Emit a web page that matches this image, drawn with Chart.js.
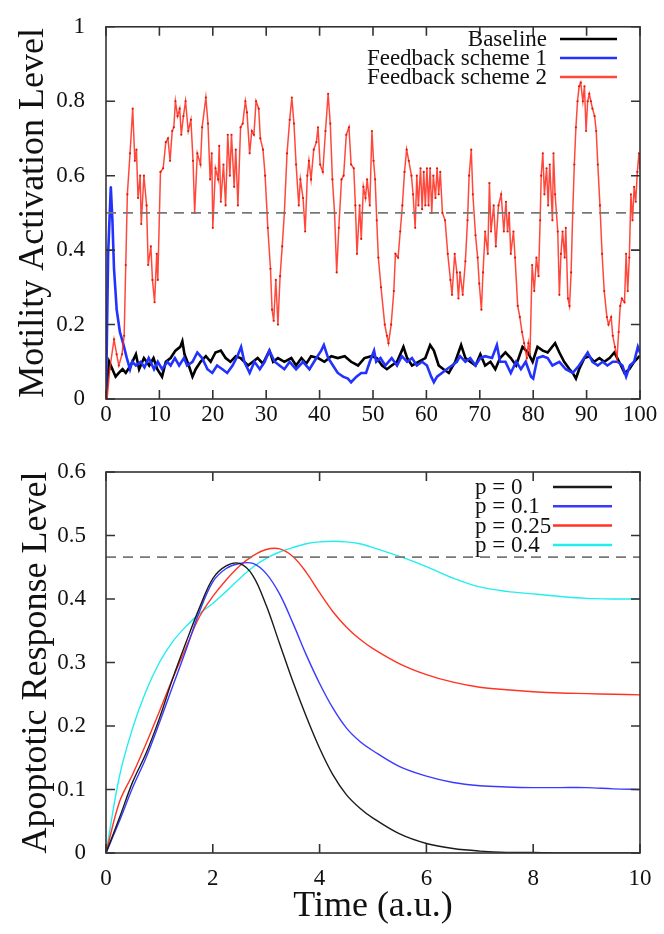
<!DOCTYPE html>
<html>
<head>
<meta charset="utf-8">
<script src="https://cdn.jsdelivr.net/npm/chart.js@4.4.1/dist/chart.umd.min.js"></script>
<style>
  body { margin: 0; background: #fff; }
  #wrap { position: relative; width: 664px; height: 934px; }
  canvas { position: absolute; left: 0; }
  #motility { top: 0; }
  #apoptosis { top: 440px; }
</style>
</head>
<body>
<div id="wrap">
  <canvas id="motility" width="664" height="440"></canvas>
  <canvas id="apoptosis" width="664" height="494"></canvas>
</div>
<script>
// --- top panel: motility activation, [time, level] pairs ---
const baselinePts = [[0,0],[0.3,0.06],[0.6,0.10],[1.2,0.08],[1.8,0.06],[2.4,0.07],[3.1,0.08],[3.7,0.07],[4.6,0.09],[5.6,0.12],[6.2,0.08],[7.1,0.11],[8.1,0.09],[8.9,0.11],[9.6,0.08],[10.5,0.06],[11.2,0.10],[12.1,0.11],[13.0,0.13],[13.9,0.14],[14.3,0.155],[14.7,0.12],[15.5,0.09],[16.2,0.06],[16.8,0.08],[17.7,0.10],[18.7,0.115],[19.6,0.10],[20.5,0.125],[21.5,0.13],[22.4,0.11],[23.3,0.10],[24.3,0.115],[25.2,0.11],[26.6,0.09],[27.5,0.10],[28.4,0.11],[29.4,0.095],[30.6,0.13],[31.3,0.10],[32.2,0.11],[33.4,0.10],[34.7,0.11],[35.6,0.09],[36.6,0.11],[37.5,0.095],[38.4,0.115],[39.7,0.11],[40.9,0.10],[42.2,0.115],[43.4,0.11],[44.7,0.115],[45.9,0.10],[47.2,0.09],[48.4,0.11],[49.7,0.115],[50.7,0.11],[51.7,0.09],[52.6,0.08],[53.5,0.09],[54.5,0.10],[55.7,0.14],[56.4,0.11],[57.3,0.09],[58.5,0.10],[59.8,0.11],[60.7,0.145],[61.4,0.13],[62.3,0.09],[63.2,0.08],[64.2,0.07],[65.4,0.10],[66.5,0.145],[67.3,0.11],[68.2,0.10],[69.2,0.09],[70.1,0.12],[71.0,0.09],[72.0,0.10],[72.9,0.08],[73.8,0.11],[74.8,0.125],[75.8,0.11],[76.8,0.09],[78.0,0.14],[79.0,0.125],[79.9,0.10],[80.8,0.14],[81.8,0.13],[82.7,0.125],[84.1,0.15],[84.9,0.125],[85.8,0.10],[86.8,0.08],[87.4,0.07],[88.0,0.055],[88.6,0.08],[89.6,0.11],[90.5,0.115],[91.4,0.10],[92.4,0.11],[93.3,0.10],[94.3,0.11],[95.2,0.125],[96.1,0.10],[97.1,0.07],[98.0,0.08],[98.9,0.10],[99.9,0.115]];

const scheme1Pts = [[0,0],[0.4,0.39],[0.9,0.57],[1.2,0.48],[1.5,0.35],[2.0,0.24],[2.6,0.18],[3.2,0.15],[3.9,0.11],[4.5,0.08],[4.9,0.10],[5.6,0.09],[6.5,0.10],[7.2,0.085],[8.0,0.11],[9.0,0.08],[9.7,0.10],[10.5,0.08],[11.5,0.10],[12.1,0.09],[12.9,0.11],[13.7,0.09],[14.6,0.11],[15.2,0.09],[16.2,0.10],[17.1,0.125],[18.0,0.11],[19.0,0.08],[19.9,0.07],[20.8,0.09],[21.8,0.08],[22.7,0.07],[23.7,0.09],[24.6,0.115],[25.3,0.14],[25.9,0.10],[26.9,0.07],[27.8,0.10],[28.8,0.08],[29.7,0.10],[30.6,0.13],[31.6,0.10],[32.5,0.09],[33.4,0.08],[34.4,0.10],[35.6,0.08],[36.9,0.10],[38.1,0.08],[39.4,0.11],[40.3,0.13],[40.8,0.145],[41.6,0.11],[42.5,0.09],[43.4,0.07],[44.4,0.06],[45.3,0.055],[45.9,0.045],[46.9,0.06],[47.8,0.07],[48.7,0.07],[49.4,0.10],[50.2,0.13],[50.6,0.10],[51.4,0.11],[52.3,0.09],[53.5,0.11],[54.5,0.09],[55.4,0.115],[56.4,0.10],[57.3,0.11],[58.2,0.09],[59.2,0.10],[60.1,0.09],[60.9,0.06],[61.4,0.045],[62.0,0.06],[62.9,0.07],[63.8,0.08],[64.8,0.09],[65.7,0.10],[66.3,0.115],[67.3,0.10],[68.2,0.11],[69.2,0.09],[70.1,0.11],[71.0,0.115],[72.3,0.11],[73.2,0.145],[73.8,0.10],[74.8,0.10],[75.8,0.07],[76.8,0.10],[77.7,0.08],[78.6,0.10],[79.6,0.06],[80.0,0.055],[80.8,0.11],[81.8,0.115],[82.7,0.11],[83.6,0.09],[84.9,0.10],[86.1,0.08],[87.4,0.07],[88.6,0.09],[90.2,0.125],[91.1,0.10],[92.1,0.09],[93.0,0.10],[93.9,0.09],[94.9,0.10],[95.8,0.10],[96.7,0.09],[97.4,0.06],[98.1,0.09],[98.9,0.10],[99.6,0.14],[100,0.125]];

const scheme2Pts = [[0.2,0],[0.7,0.08],[1.5,0.16],[2.0,0.12],[2.4,0.09],[3.0,0.12],[3.4,0.17],[3.7,0.36],[4.0,0.55],[4.5,0.66],[5.0,0.78],[5.4,0.64],[5.7,0.67],[6.0,0.54],[6.4,0.60],[6.6,0.47],[7.1,0.60],[7.6,0.52],[7.9,0.36],[8.4,0.41],[8.7,0.32],[9.1,0.26],[9.5,0.39],[9.7,0.32],[10.2,0.61],[10.7,0.62],[11.2,0.69],[11.6,0.70],[12.0,0.64],[12.4,0.72],[12.7,0.73],[13.0,0.80],[13.4,0.76],[13.8,0.78],[14.1,0.71],[14.5,0.76],[14.9,0.80],[15.4,0.72],[15.9,0.75],[16.3,0.64],[16.6,0.50],[17.1,0.66],[17.7,0.63],[18.0,0.73],[18.7,0.81],[19.1,0.74],[19.5,0.59],[19.8,0.66],[20.0,0.46],[20.5,0.62],[21.0,0.59],[21.2,0.68],[21.5,0.53],[22.0,0.63],[22.4,0.52],[22.8,0.71],[23.2,0.60],[23.5,0.71],[24.0,0.57],[24.3,0.67],[24.7,0.52],[25.2,0.73],[25.6,0.74],[26.1,0.80],[26.4,0.77],[26.9,0.66],[27.3,0.72],[27.7,0.71],[28.1,0.80],[28.6,0.78],[28.9,0.70],[29.4,0.67],[29.8,0.60],[30.3,0.46],[30.8,0.35],[31.1,0.24],[31.4,0.21],[31.8,0.32],[32.2,0.20],[32.6,0.33],[33.0,0.41],[33.4,0.50],[33.9,0.66],[34.4,0.75],[34.8,0.81],[35.2,0.74],[35.6,0.63],[36.1,0.52],[36.4,0.59],[36.9,0.54],[37.3,0.45],[37.7,0.60],[38.0,0.64],[38.4,0.59],[38.9,0.67],[39.4,0.69],[39.7,0.73],[40.1,0.63],[40.6,0.61],[41.1,0.72],[41.6,0.82],[42.0,0.74],[42.4,0.59],[42.8,0.50],[43.2,0.34],[43.6,0.46],[44.1,0.59],[44.5,0.60],[45.0,0.71],[45.5,0.73],[45.9,0.63],[46.4,0.62],[46.7,0.52],[47.0,0.39],[47.5,0.52],[47.8,0.43],[48.2,0.57],[48.6,0.54],[48.9,0.59],[49.4,0.52],[49.8,0.72],[50.1,0.64],[50.4,0.59],[50.7,0.48],[51.0,0.38],[51.5,0.30],[52.2,0.20],[52.6,0.17],[52.9,0.15],[53.4,0.20],[53.9,0.29],[54.2,0.39],[54.7,0.38],[55.1,0.45],[55.5,0.52],[55.9,0.61],[56.3,0.67],[56.7,0.64],[57.2,0.60],[57.5,0.55],[57.9,0.46],[58.2,0.60],[58.5,0.52],[58.9,0.62],[59.2,0.51],[59.5,0.61],[59.8,0.52],[60.1,0.62],[60.4,0.52],[60.7,0.62],[61.0,0.50],[61.3,0.60],[61.7,0.54],[62.0,0.62],[62.3,0.55],[62.6,0.61],[63.0,0.50],[63.5,0.48],[64.0,0.39],[64.5,0.32],[64.8,0.28],[65.3,0.39],[65.7,0.34],[66.0,0.27],[66.3,0.34],[66.8,0.28],[67.3,0.37],[67.7,0.48],[68.0,0.60],[68.4,0.67],[68.7,0.55],[69.2,0.44],[69.6,0.38],[69.9,0.31],[70.3,0.24],[70.6,0.34],[71.0,0.45],[71.5,0.39],[71.8,0.58],[72.1,0.45],[72.6,0.52],[73.0,0.41],[73.5,0.52],[74.0,0.55],[74.5,0.45],[74.9,0.53],[75.2,0.45],[75.5,0.50],[75.8,0.39],[76.3,0.45],[76.6,0.38],[77.1,0.25],[77.5,0.22],[77.9,0.18],[78.3,0.15],[78.8,0.11],[79.1,0.15],[79.4,0.12],[79.8,0.36],[80.2,0.29],[80.6,0.38],[81.0,0.33],[81.3,0.48],[81.5,0.60],[81.8,0.66],[82.1,0.55],[82.5,0.62],[82.8,0.52],[83.1,0.63],[83.6,0.48],[83.8,0.66],[84.1,0.55],[84.6,0.45],[84.9,0.28],[85.2,0.39],[85.5,0.45],[85.9,0.38],[86.1,0.46],[86.5,0.27],[86.8,0.25],[87.1,0.34],[87.4,0.50],[87.7,0.63],[88.0,0.73],[88.3,0.80],[88.6,0.84],[88.9,0.85],[89.3,0.80],[89.6,0.84],[89.9,0.72],[90.2,0.80],[90.5,0.82],[90.8,0.80],[91.1,0.78],[91.5,0.76],[91.8,0.72],[92.1,0.63],[92.5,0.52],[92.9,0.39],[93.3,0.29],[93.8,0.22],[94.1,0.20],[94.6,0.22],[94.9,0.17],[95.3,0.14],[95.7,0.11],[96.0,0.18],[96.3,0.25],[96.6,0.27],[97.1,0.26],[97.4,0.39],[97.7,0.29],[98.0,0.38],[98.3,0.55],[98.6,0.48],[98.9,0.57],[99.2,0.53],[99.5,0.61],[99.8,0.66],[100,0.62]];

const motilityThreshold = 0.5;

// --- bottom panel: apoptotic response on a shared time grid ---
const apoTimes = [0,0.25,0.5,0.75,1,1.25,1.5,1.75,2,2.25,2.5,2.75,3,3.25,3.5,3.75,4,4.25,4.5,4.75,5,5.5,6,6.5,7,7.5,8,8.5,9,9.5,10];
const apoP0   = [0,0.055,0.112,0.157,0.212,0.275,0.332,0.386,0.432,0.452,0.456,0.437,0.39,0.33,0.27,0.215,0.165,0.123,0.092,0.071,0.055,0.03,0.015,0.007,0.003,0.001,0.001,0,0,0,0];
const apoP01  = [0,0.05,0.103,0.15,0.205,0.263,0.32,0.38,0.427,0.448,0.456,0.456,0.44,0.408,0.362,0.312,0.267,0.228,0.197,0.176,0.161,0.136,0.121,0.111,0.106,0.104,0.103,0.103,0.103,0.101,0.10];
const apoP025 = [0,0.08,0.124,0.172,0.223,0.275,0.324,0.372,0.404,0.43,0.452,0.468,0.478,0.479,0.467,0.442,0.41,0.38,0.356,0.337,0.322,0.298,0.281,0.269,0.261,0.257,0.254,0.252,0.251,0.25,0.249];
const apoP04  = [0,0.12,0.197,0.255,0.3,0.333,0.357,0.377,0.393,0.412,0.432,0.45,0.464,0.474,0.481,0.487,0.49,0.491,0.49,0.487,0.481,0.467,0.451,0.433,0.419,0.412,0.408,0.404,0.401,0.40,0.40];
const apoThreshold = 0.466;

const SERIF = '"Liberation Serif", "DejaVu Serif", serif';

// gnuplot style box with inward ticks on all four sides
const boxFrame = {
  id: 'boxFrame',
  afterDatasetsDraw(chart) {
    const { ctx, chartArea: a, scales: { x, y } } = chart;
    const len = 9;
    ctx.save();
    ctx.strokeStyle = '#333';
    ctx.lineWidth = 1.6;
    ctx.beginPath();
    x.ticks.forEach(t => {
      const px = x.getPixelForValue(t.value);
      ctx.moveTo(px, a.bottom); ctx.lineTo(px, a.bottom - len);
      ctx.moveTo(px, a.top); ctx.lineTo(px, a.top + len);
    });
    y.ticks.forEach(t => {
      const py = y.getPixelForValue(t.value);
      ctx.moveTo(a.left, py); ctx.lineTo(a.left + len, py);
      ctx.moveTo(a.right, py); ctx.lineTo(a.right - len, py);
    });
    ctx.stroke();
    ctx.strokeRect(a.left, a.top, a.width, a.height);
    ctx.restore();
  }
};

// key drawn inside the plot, like the original
const insideKey = {
  id: 'insideKey',
  afterDraw(chart, args, o) {
    const ctx = chart.ctx;
    ctx.save();
    ctx.font = '23px ' + SERIF;
    ctx.textAlign = o.align;
    ctx.textBaseline = 'middle';
    ctx.fillStyle = '#111';
    chart.data.datasets.filter(d => d.label).forEach((d, i) => {
      const yy = o.y + i * o.step;
      ctx.fillText(d.label, o.textX, yy + 1);
      ctx.strokeStyle = d.borderColor;
      ctx.lineWidth = 2.5;
      ctx.beginPath();
      ctx.moveTo(o.x1, yy);
      ctx.lineTo(o.x2, yy);
      ctx.stroke();
    });
    ctx.restore();
  }
};

const tickFont = { family: SERIF, size: 23 };
const titleFont = { family: SERIF, size: 36 };
const toXY = pts => pts.map(p => ({ x: p[0], y: p[1] }));
const plainNum = v => String(Number(v.toFixed(2)));

function dashed(xMax, level) {
  return {
    label: '', data: [{ x: 0, y: level }, { x: xMax, y: level }],
    borderColor: '#777777', borderWidth: 1.8, borderDash: [10, 7],
    pointRadius: 0, order: -1
  };
}

new Chart(document.getElementById('motility'), {
  type: 'line',
  data: {
    datasets: [
      { label: 'Baseline', data: toXY(baselinePts), borderColor: '#000000', borderWidth: 2.6,
        pointRadius: 0.9, pointBackgroundColor: '#000', pointBorderWidth: 0, order: 2 },
      { label: 'Feedback scheme 1', data: toXY(scheme1Pts), borderColor: '#2233ff', borderWidth: 2.6,
        pointRadius: 0.9, pointBackgroundColor: '#2233ff', pointBorderWidth: 0, order: 1 },
      { label: 'Feedback scheme 2', data: toXY(scheme2Pts), borderColor: 'rgba(255,40,25,0.85)', borderWidth: 1.5,
        pointRadius: 1.1, pointBackgroundColor: '#e01808', pointBorderWidth: 0, order: 0 },
      dashed(100, motilityThreshold)
    ]
  },
  options: {
    responsive: false, animation: false, devicePixelRatio: 1,
    layout: { padding: { top: 17, right: 24, left: 0, bottom: 0 } },
    plugins: {
      legend: { display: false }, tooltip: { enabled: false },
      insideKey: { align: 'right', textX: 547, x1: 560, x2: 617, y: 39, step: 19 }
    },
    scales: {
      x: {
        type: 'linear', min: 0, max: 100,
        ticks: { stepSize: 10, font: tickFont, color: '#111', padding: -6, maxRotation: 0, callback: plainNum },
        grid: { display: false }, border: { display: false },
        afterFit: s => { s.height = 41; }
      },
      y: {
        min: 0, max: 1,
        ticks: { stepSize: 0.2, font: tickFont, color: '#111', padding: 13, callback: plainNum },
        grid: { display: false }, border: { display: false },
        title: { display: true, text: 'Motility Activation Level', font: titleFont, color: '#111', padding: { top: 12, bottom: 0 } },
        afterFit: s => { s.width = 106; }
      }
    }
  },
  plugins: [boxFrame, insideKey]
});

const apoSeries = [
  { label: 'p = 0', values: apoP0, color: '#1a1a1a' },
  { label: 'p = 0.1', values: apoP01, color: '#3a3aff' },
  { label: 'p = 0.25', values: apoP025, color: '#ff3322' },
  { label: 'p = 0.4', values: apoP04, color: '#22eeee' }
];

new Chart(document.getElementById('apoptosis'), {
  type: 'line',
  data: {
    datasets: apoSeries.map(s => ({
      label: s.label,
      data: apoTimes.map((t, i) => ({ x: t, y: s.values[i] })),
      borderColor: s.color, borderWidth: 1.4, pointRadius: 0,
      tension: 0.35
    })).concat([dashed(10, apoThreshold)])
  },
  options: {
    responsive: false, animation: false, devicePixelRatio: 1,
    layout: { padding: { top: 32, right: 24, left: 0, bottom: 0 } },
    plugins: {
      legend: { display: false }, tooltip: { enabled: false },
      insideKey: { align: 'left', textX: 475, x1: 553, x2: 612, y: 47, step: 19.3 }
    },
    scales: {
      x: {
        type: 'linear', min: 0, max: 10,
        ticks: { stepSize: 2, font: tickFont, color: '#111', padding: 4, maxRotation: 0, callback: plainNum },
        grid: { display: false }, border: { display: false },
        title: { display: true, text: 'Time (a.u.)', font: titleFont, color: '#111', padding: { top: 0, bottom: 6 } },
        afterFit: s => { s.height = 81; }
      },
      y: {
        min: 0, max: 0.6,
        ticks: { stepSize: 0.1, font: tickFont, color: '#111', padding: 12, callback: plainNum },
        grid: { display: false }, border: { display: false },
        title: { display: true, text: 'Apoptotic Response Level', font: titleFont, color: '#111', padding: { top: 15, bottom: 0 } },
        afterFit: s => { s.width = 106; }
      }
    }
  },
  plugins: [boxFrame, insideKey]
});
</script>
</body>
</html>
